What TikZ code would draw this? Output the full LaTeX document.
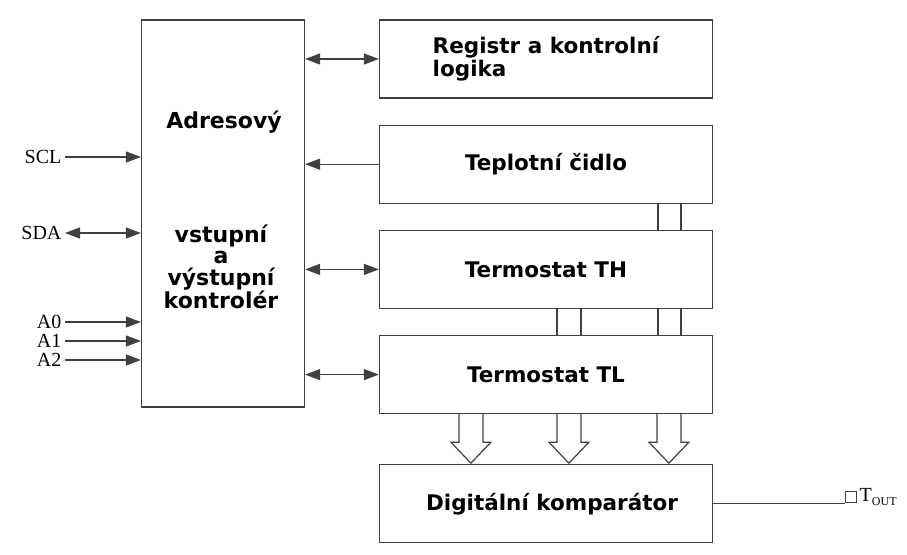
\documentclass[tikz,border=0pt]{standalone}
\usepackage{fontspec}
\setmainfont{Liberation Serif}
\newfontfamily\boxfont{DejaVu Sans}
\usepackage{tikz}
\usetikzlibrary{positioning}
\usetikzlibrary{calc}
\usetikzlibrary{arrows.meta}

\begin{document}
\begin{tikzpicture}[
    x=1pt, y=-1pt,
    >={Triangle[length=15pt,width=11pt]},
    every path/.style={line width=1.2pt, draw=black!75},
    box/.style={rectangle, draw=black!75, line width=1.2pt, minimum width=333pt, minimum height=78pt, align=center, font=\boxfont\bfseries\fontsize{21.5}{23}\selectfont},
    txt/.style={font=\boxfont\bfseries\fontsize{22}{21.5}\selectfont, align=center},
    pin/.style={font=\fontsize{20}{22}\selectfont, inner sep=3pt},
    node distance=26pt
]
\path[use as bounding box, draw=none] (0,0) rectangle (907,554);

\node[rectangle, draw=black!75, line width=1.2pt, minimum width=163pt, minimum height=387pt] (adr) at (223,213.5) {};
\node[txt] (adr_1) at (224,122) {Adresový};
\node[txt] (adr_2) at (221,267) {vstupní\\a\\výstupní\\kontrolér};

\node[box, align=left] (reg) at (546,59) {Registr a kontrolní\\logika};
\node[box] (cid) [below=of reg] {Teplotní čidlo};
\node[box] (th) [below=of cid] {Termostat TH};
\node[box] (tl) [below=of th] {Termostat TL};
\node[box] (cmp) [below=50pt of tl] {\hspace*{12pt}Digitální komparátor};

\node[pin, anchor=east] (scl) at (65,157) {SCL};
\node[pin, anchor=east] (sda) at (65,233) {SDA};
\node[pin, anchor=east] (a0) at (65,322) {A0};
\node[pin, anchor=east] (a1) at (65,341) {A1};
\node[pin, anchor=east] (a2) at (65,360) {A2};

\draw[->] (scl) -- (scl -| adr.west);
\draw[<->] (sda) -- (sda -| adr.west);
\draw[->] (a0) -- (a0 -| adr.west);
\draw[->] (a1) -- (a1 -| adr.west);
\draw[->] (a2) -- (a2 -| adr.west);

\draw[<->] (reg.west -| adr.east) -- (reg.west);
\draw[->] (cid.west) -- (cid.west -| adr.east);
\draw[<->] (th.west -| adr.east) -- (th.west);
\draw[<->] (tl.west -| adr.east) -- (tl.west);

\foreach \dx in {279,302}
    \draw ([xshift=\dx]cid.south west) -- ([xshift=\dx]th.north west);
\foreach \dx in {178,202,279,302}
    \draw ([xshift=\dx]th.south west) -- ([xshift=\dx]tl.north west);

% hollow arrows into the comparator
\foreach \cx in {92,190,290}
    \draw[line join=miter] ([xshift=\cx-12]tl.south west) -- ++(0,28) -- ++(-8,0) -- ++(20,21) -- ++(20,-21) -- ++(-8,0) -- ++(0,-28);

\node[rectangle, draw=black!75, line width=1.2pt, minimum size=11pt, inner sep=0pt] (tsq) at (851,497) {};
\node[pin, anchor=west, inner sep=2pt] (tout) at (tsq.east) {T\raisebox{-0.4ex}{\fontsize{12}{12}\selectfont OUT}};
\draw (cmp.east) -- (cmp.east -| tsq.west);

\end{tikzpicture}
\end{document}
